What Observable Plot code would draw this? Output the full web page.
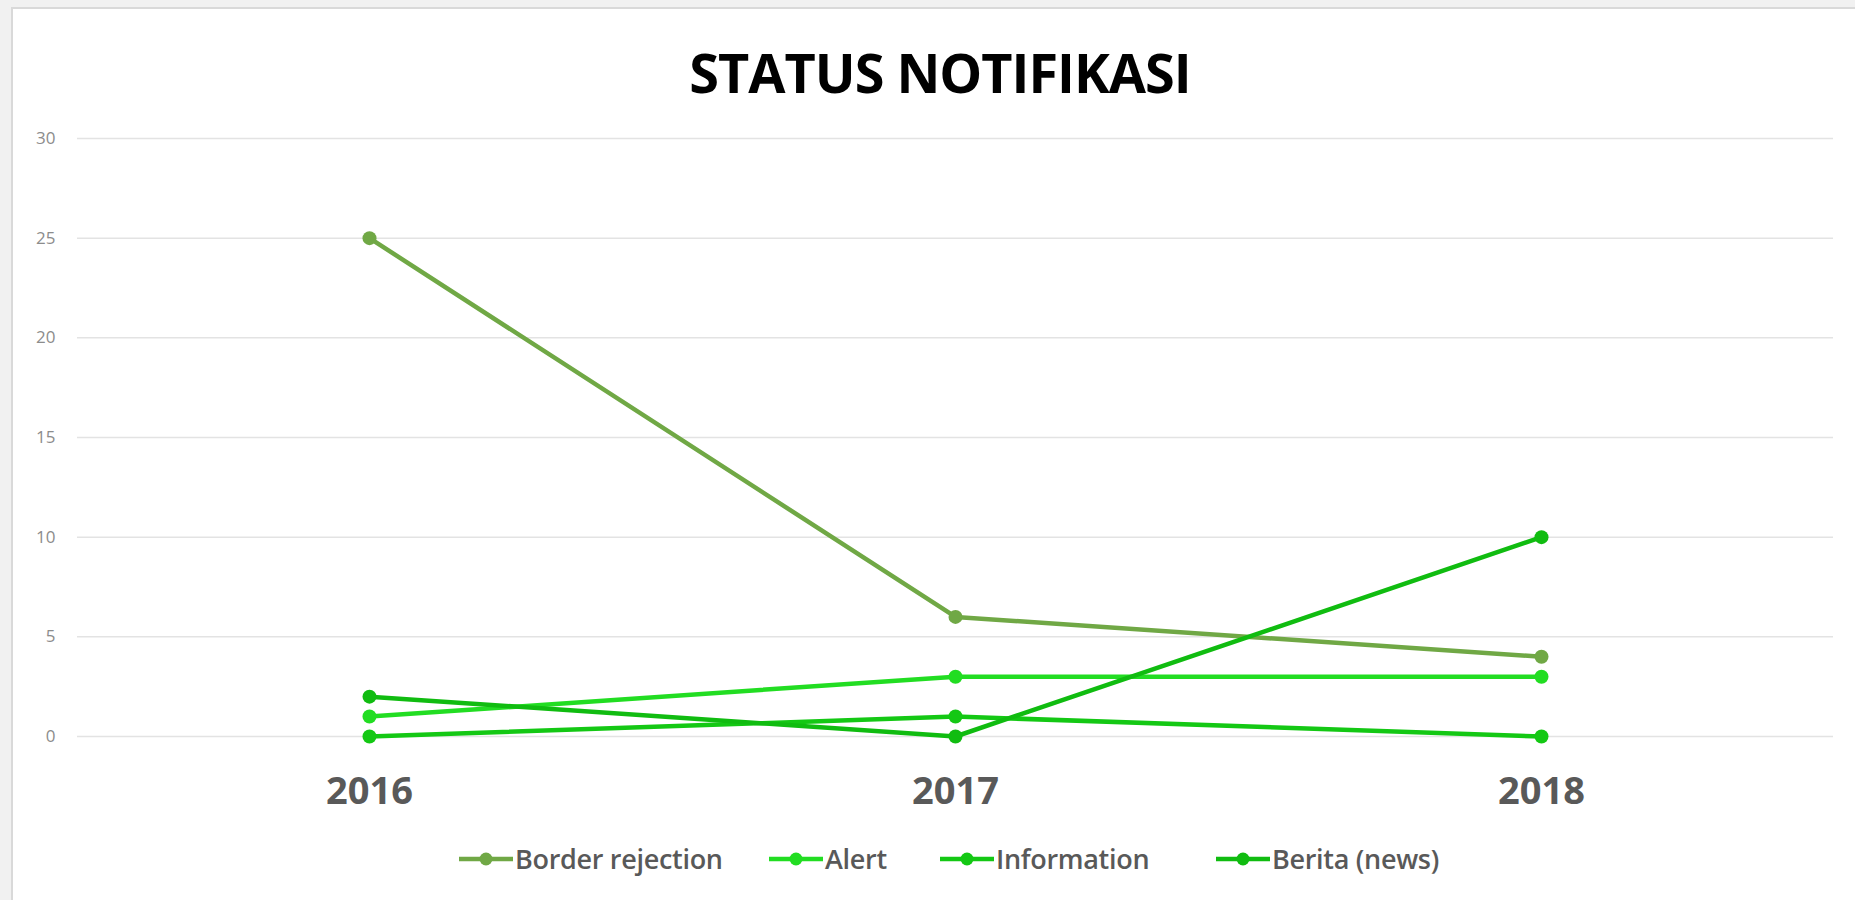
<!DOCTYPE html>
<html>
<head>
<meta charset="utf-8">
<script src="https://cdn.jsdelivr.net/npm/d3@7"></script>
<script src="https://cdn.jsdelivr.net/npm/@observablehq/plot@0.6"></script>
<style>
  html, body { margin: 0; padding: 0; }
  body { width: 1855px; height: 900px; background: #f1f1f1; position: relative; overflow: hidden; font-family: "Open Sans", sans-serif; }
  #frame { position: absolute; left: 11px; top: 7px; width: 1844px; height: 893px; background: #fff; border-left: 2px solid #d9d9d9; border-top: 2px solid #d9d9d9; box-sizing: border-box; }
  #title { position: absolute; left: 0; width: 1880px; top: 42px; text-align: center; font-weight: 700; font-size: 54px; color: #000; letter-spacing: -1px; line-height: 60px; }
  #chart { position: absolute; left: 0; top: 0; }
  #legend { position: absolute; left: 0; top: 0; width: 1855px; height: 900px; pointer-events: none; }
  .item { position: absolute; top: 841px; height: 36px; font-size: 27px; font-weight: 600; color: #595959; line-height: 36px; white-space: nowrap; letter-spacing: -0.3px; }
  .item svg { position: absolute; top: 8px; }
</style>
</head>
<body>
<div id="frame"></div>
<div id="chart"></div>
<div id="title">STATUS NOTIFIKASI</div>
<div id="legend"></div>
<script>
// ---- data ----
const years = ["2016", "2017", "2018"];
const seriesNames = ["Border rejection", "Alert", "Information", "Berita (news)"];
const borderRejection = [25, 6, 4];
const alertValues = [1, 3, 3];
const information = [0, 1, 0];
const berita = [2, 0, 10];
const seriesColors = ["#70a845", "#22dd22", "#14c814", "#10bc10"];
const yTicks = [0, 5, 10, 15, 20, 25, 30];
const legendTextX = [515, 825, 996, 1272];

const allValues = [borderRejection, alertValues, information, berita];
const rows = [];
seriesNames.forEach((s, i) => years.forEach((y, j) => rows.push({series: s, year: y, value: allValues[i][j]})));

const chart = Plot.plot({
  width: 1855,
  height: 830,
  marginLeft: 77,
  marginRight: 22,
  marginTop: 138,
  marginBottom: 94,
  style: {background: "transparent", fontFamily: "Open Sans, sans-serif"},
  x: {type: "point", domain: years, padding: 0.498, label: null},
  y: {domain: [0, 30], label: null},
  color: {domain: seriesNames, range: seriesColors},
  marks: [
    Plot.ruleY(yTicks, {stroke: "#e3e3e3", strokeWidth: 1.5}),
    Plot.axisY(yTicks, {tickSize: 0, tickPadding: 22, fontSize: 17, fill: "#8c8c8c", label: null}),
    Plot.axisX(years, {tickSize: 0, tickPadding: 41, fontSize: 38, fontWeight: 700, fill: "#595959", label: null}),
    Plot.line(rows, {x: "year", y: "value", z: "series", stroke: "series", strokeWidth: 4.5}),
    Plot.dot(rows, {x: "year", y: "value", fill: "series", r: 7})
  ]
});
document.getElementById("chart").appendChild(chart);

// legend
const legend = document.getElementById("legend");
seriesNames.forEach((s, i) => {
  const d = document.createElement("div");
  d.className = "item";
  d.style.left = legendTextX[i] + "px";
  d.innerHTML = `<svg width="56" height="20" style="left:-57px"><line x1="1" x2="55" y1="10" y2="10" stroke="${seriesColors[i]}" stroke-width="4.5"/><circle cx="28" cy="10" r="6.5" fill="${seriesColors[i]}"/></svg><span>${s}</span>`;
  legend.appendChild(d);
});
</script>
</body>
</html>
